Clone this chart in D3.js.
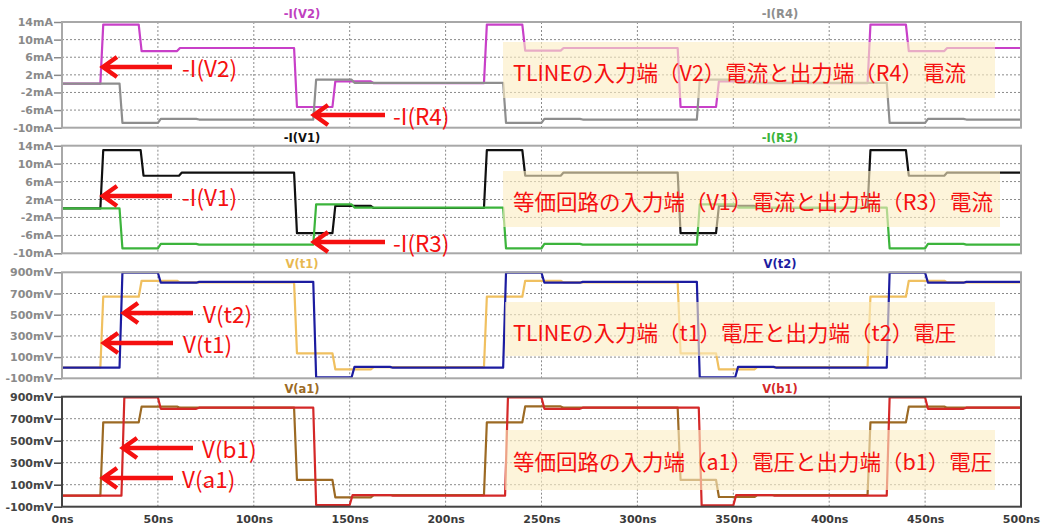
<!DOCTYPE html>
<html><head><meta charset="utf-8">
<script src="https://cdn.jsdelivr.net/npm/d3@7"></script>
<style>
html,body{margin:0;padding:0;background:#fff;}
svg{display:block;}
</style></head>
<body>
<svg id="c" width="1044" height="529"></svg>
<script>
// ---------- data (time ns, value) step events ----------
const timeTicks = [0,50,100,150,200,250,300,350,400,450,500];
const timeTickLabels = ["0ns","50ns","100ns","150ns","200ns","250ns","300ns","350ns","400ns","450ns","500ns"];
const currentTicks = [14,10,6,2,-2,-6,-10];
const currentTickLabels = ["14mA","10mA","6mA","2mA","-2mA","-6mA","-10mA"];
const voltTicks = [900,700,500,300,100,-100];
const voltTickLabels = ["900mV","700mV","500mV","300mV","100mV","-100mV"];

const iV2 = [[0,0],[20,13.4],[40,7.4],[60,8.1],[121,-5.3],[141,0.5],[161,0.1],[220,13.4],[240,7.5],[260,8.1],[321,-5.3],[341,0.5],[361,0.1],[420,13.4],[440,7.4],[460,8.1]];
const iR4 = [[0,0],[30,-8.9],[50,-8.0],[70,-8.15],[131,0.9],[151,0.2],[230,-8.9],[250,-8.0],[270,-8.15],[331,0.9],[351,0.2],[430,-8.9],[450,-8.0],[470,-8.15]];
const iV1 = [[0,0],[20,13.0],[41,7.3],[61,8.0],[121,-5.5],[141,0.6],[161,0.1],[220,13.0],[240,7.3],[260,8.0],[321,-5.5],[341,0.6],[361,0.1],[420,13.0],[440,7.3],[460,8.0]];
const iR3 = [[0,0],[30,-8.9],[50,-7.9],[70,-8.05],[131,0.9],[151,0.2],[230,-8.9],[250,-7.9],[270,-8.05],[331,0.9],[351,0.2],[430,-8.9],[450,-7.9],[470,-8.05]];
const vt1 = [[0,0],[20,670],[40,820],[60,805],[121,136],[141,-15],[161,5],[220,670],[240,820],[260,805],[321,136],[341,-15],[361,5],[420,670],[440,820],[460,805]];
const vt2 = [[0,0],[30,896],[50,802],[70,810],[131,-90],[151,8],[171,0],[230,896],[250,802],[270,810],[331,-90],[351,8],[371,0],[430,896],[450,802],[470,810]];
const va1 = [[0,0],[20,667],[40,810],[60,800],[121,143],[141,-15],[161,6],[220,667],[240,812],[260,800],[321,143],[341,-12],[361,6],[420,667],[440,810],[460,800]];
const vb1 = [[0,0],[31,893],[50,790],[70,800],[131,-85],[150,6],[171,0],[231,893],[250,790],[270,800],[332,-88],[350,6],[370,0],[430,893],[450,790],[470,800]];

const panelTitles = [["-I(V2)","-I(R4)"],["-I(V1)","-I(R3)"],["V(t1)","V(t2)"],["V(a1)","V(b1)"]];
const boxTexts = ["TLINEの入力端（V2）電流と出力端（R4）電流","等価回路の入力端（V1）電流と出力端（R3）電流","TLINEの入力端（t1）電圧と出力端（t2）電圧","等価回路の入力端（a1）電圧と出力端（b1）電圧"];
const arrowLabels = [["-I(V2)","-I(R4)"],["-I(V1)","-I(R3)"],["V(t2)","V(t1)"],["V(b1)","V(a1)"]];

// ---------- layout ----------
const svg = d3.select("#c");
const X0 = 62, X1 = 1021, TEND = 500;
const x = d3.scaleLinear().domain([0,TEND]).range([X0,X1]);
const panels = [
  {top:22, bot:127.7, dom:[-10,14], ticks:currentTicks, labels:currentTickLabels, series:[{d:iV2,c:"#c840c8"},{d:iR4,c:"#8e8e8e"}], tcol:["#c040c0","#8e8e8e"], frame:"#a8a8a8", lab:"#8a8a8a",
   box:[503,42,995,98], textY:71, arrows:[{y:67,tail:172,tip:102,tx:182},{y:115,tail:385,tip:313,tx:393}]},
  {top:145.7, bot:253.3, dom:[-10,14], ticks:currentTicks, labels:currentTickLabels, series:[{d:iV1,c:"#101010"},{d:iR3,c:"#3cb43c"}], tcol:["#101010","#3cb43c"], frame:"#a8a8a8", lab:"#8a8a8a",
   box:[503,171,1000,227], textY:200, arrows:[{y:196,tail:172,tip:102,tx:182},{y:242,tail:385,tip:313,tx:393}]},
  {top:272.3, bot:378.3, dom:[-100,900], ticks:voltTicks, labels:voltTickLabels, series:[{d:vt1,c:"#f0c060"},{d:vt2,c:"#1c1ca0"}], tcol:["#e8b850","#1c1ca0"], frame:"#a8a8a8", lab:"#8a8a8a",
   box:[505,302,995,356], textY:331, arrows:[{y:313,tail:193,tip:123,tx:203},{y:343,tail:173,tip:103,tx:183}]},
  {top:396.7, bot:506.7, dom:[-100,900], ticks:voltTicks, labels:voltTickLabels, series:[{d:va1,c:"#9c6a24"},{d:vb1,c:"#d42828"}], tcol:["#9c6a24","#d42828"], frame:"#444", lab:"#444",
   box:[505,430,995,490], textY:460, arrows:[{y:448,tail:193,tip:122,tx:202},{y:478,tail:173,tip:102,tx:182}]}
];

const RISE = 1.5;
function stepPoints(ev){
  const pts = [[ev[0][0], ev[0][1]]];
  for(let i=1;i<ev.length;i++){
    const prev = ev[i-1][1];
    pts.push([ev[i][0], prev]);
    pts.push([ev[i][0]+RISE, ev[i][1]]);
  }
  pts.push([TEND, ev[ev.length-1][1]]);
  return pts;
}

const fontAxis = "'DejaVu Sans', Verdana, sans-serif";
const fontJP = "'Noto Sans CJK JP', 'Noto Sans', sans-serif";

panels.forEach((p,pi)=>{
  const y = d3.scaleLinear().domain(p.dom).range([p.bot,p.top]);
  const g = svg.append("g");
  // grid
  g.selectAll(".vg").data(timeTicks.slice(1,-1)).join("line")
    .attr("x1",d=>x(d)).attr("x2",d=>x(d)).attr("y1",p.top).attr("y2",p.bot)
    .attr("stroke","#8a8a8a").attr("stroke-width",1).attr("stroke-dasharray","2,2");
  g.selectAll(".hg").data(p.ticks.slice(1,-1)).join("line")
    .attr("x1",X0).attr("x2",X1).attr("y1",d=>y(d)).attr("y2",d=>y(d))
    .attr("stroke","#8a8a8a").attr("stroke-width",1).attr("stroke-dasharray","2,2");
  // left axis
  const ax = d3.axisLeft(y).tickValues(p.ticks).tickFormat((d,i)=>p.labels[i]).tickSize(8).tickPadding(1);
  const ag = g.append("g").attr("transform",`translate(${X0},0)`).call(ax);
  ag.select(".domain").remove();
  ag.selectAll("line").attr("stroke",p.lab).attr("stroke-width",1.5);
  ag.selectAll("text").attr("fill",p.lab).attr("font-family",fontAxis).attr("font-weight","bold").attr("font-size","11px");
  // series
  const line = d3.line().x(d=>x(d[0])).y(d=>y(d[1]));
  const clip = "clip"+pi;
  svg.append("clipPath").attr("id",clip).append("rect").attr("x",X0).attr("y",p.top-1).attr("width",X1-X0).attr("height",p.bot-p.top+2);
  p.series.forEach(s=>{
    g.append("path").attr("d",line(stepPoints(s.d))).attr("fill","none").attr("stroke",s.c)
      .attr("stroke-width",2.2).attr("stroke-linejoin","round").attr("clip-path",`url(#${clip})`);
  });
  // frame
  g.append("rect").attr("x",X0).attr("y",p.top).attr("width",X1-X0).attr("height",p.bot-p.top)
    .attr("fill","none").attr("stroke",p.frame).attr("stroke-width",2);
  // titles
  const tx = [302,780];
  panelTitles[pi].forEach((t,k)=>{
    g.append("text").attr("x",tx[k]).attr("y",p.top-4).attr("text-anchor","middle")
      .attr("fill",p.tcol[k]).attr("font-family",fontAxis).attr("font-weight","bold").attr("font-size","11.5px").text(t);
  });
  // label box
  const b = p.box;
  g.append("rect").attr("x",b[0]).attr("y",b[1]).attr("width",b[2]-b[0]).attr("height",b[3]-b[1])
    .attr("fill","#fbedc4").attr("opacity",0.62);
  g.append("text").attr("x",513).attr("y",p.textY).attr("dominant-baseline","central")
    .attr("fill","#f51010").attr("font-family",fontJP).attr("font-size","21.5px").text(boxTexts[pi]);
  // arrows
  p.arrows.forEach((a,k)=>{
    g.append("path").attr("d",`M${a.tail},${a.y}L${a.tip+3},${a.y}M${a.tip+15},${a.y-10}L${a.tip+1},${a.y}L${a.tip+15},${a.y+10}`)
      .attr("fill","none").attr("stroke","#f51010").attr("stroke-width",4.5).attr("stroke-linejoin","miter");
    g.append("text").attr("x",a.tx).attr("y",a.y).attr("dominant-baseline","central")
      .attr("fill","#f51010").attr("font-family",fontJP).attr("font-size","22.5px").text(arrowLabels[pi][k]);
  });
});

// bottom axis
const bx = d3.axisBottom(x).tickValues(timeTicks).tickFormat((d,i)=>timeTickLabels[i]).tickSize(0).tickPadding(9);
const bg = svg.append("g").attr("transform",`translate(0,${panels[3].bot})`).call(bx);
bg.select(".domain").remove();
bg.selectAll("text").attr("fill","#3a3a3a").attr("font-family",fontAxis).attr("font-weight","bold").attr("font-size","11px");
</script>
</body></html>
